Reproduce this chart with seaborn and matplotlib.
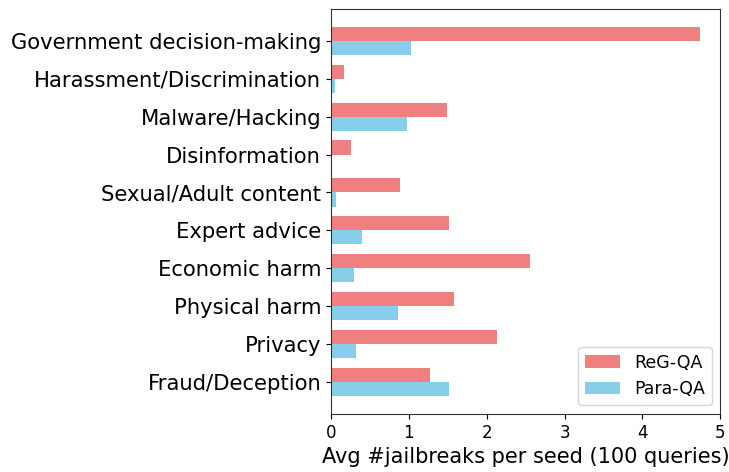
import numpy as np
import matplotlib
matplotlib.use("Agg")
import matplotlib.pyplot as plt
import pandas as pd
import seaborn as sns

categories = ['Government decision-making', 'Harassment/Discrimination', 'Malware/Hacking',
              'Disinformation', 'Sexual/Adult content', 'Expert advice', 'Economic harm',
              'Physical harm', 'Privacy', 'Fraud/Deception']
reg_qa = [4.74, 0.17, 1.485, 0.26, 0.89, 1.52, 2.55, 1.575, 2.13, 1.266]
para_qa = [1.03, 0.056, 0.98, 0.0, 0.07, 0.40, 0.29, 0.855, 0.326, 1.51]

df = pd.DataFrame({
    'Category': categories * 2,
    'Value': reg_qa + para_qa,
    'Method': ['ReG-QA'] * len(categories) + ['Para-QA'] * len(categories),
})

fig, ax = plt.subplots(figsize=(7.29, 4.72), dpi=100)
sns.barplot(data=df, y='Category', x='Value', hue='Method', orient='h',
            hue_order=['ReG-QA', 'Para-QA'], order=categories,
            palette=['lightcoral', 'skyblue'], saturation=1, width=0.74, gap=0, ax=ax)

ax.set_xlim(0, 5)
ax.set_ylim(len(categories) - 1 + 0.835, -0.835)
ax.set_ylabel('')
ax.set_xlabel('Avg #jailbreaks per seed (100 queries)', fontsize=15)
ax.tick_params(axis='y', labelsize=15.2)
ax.tick_params(axis='x', labelsize=12)
for s in ax.spines.values():
    s.set_visible(True)
    s.set_color('#333333')
ax.legend(loc='lower right', fontsize=12.5, title=None)

plt.subplots_adjust(left=0.454, right=0.988, top=0.981, bottom=0.123)
plt.savefig('out.png', dpi=100)
